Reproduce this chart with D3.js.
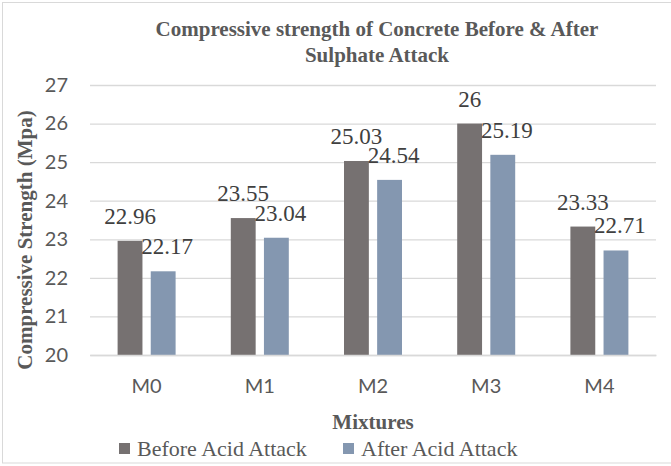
<!DOCTYPE html>
<html><head><meta charset="utf-8">
<script src="https://cdn.jsdelivr.net/npm/d3@7/dist/d3.min.js"></script>
</head><body style="margin:0">
<svg id="chart" width="671" height="466"></svg>
<script>
const categories = ["M0","M1","M2","M3","M4"];
const seriesNames = ["Before Acid Attack","After Acid Attack"];
const beforeValues = [22.96,23.55,25.03,26,23.33];
const afterValues = [22.17,23.04,24.54,25.19,22.71];
const yTicks = [20,21,22,23,24,25,26,27];
const colors = ["#767171","#8497B0"];

const svg = d3.select("#chart");
const W = 671, H = 466;
const m = {left: 90, right: 15, top: 85, bottom: 111};
const pw = W - m.left - m.right, ph = H - m.top - m.bottom;

svg.append("rect").attr("x",2.5).attr("y",2.5).attr("width",W+5).attr("height",H-5-0.5)
  .attr("fill","#fff").attr("stroke","#d9d9d9").attr("stroke-width",1);

const x = d3.scaleBand().domain(categories).range([m.left, m.left+pw]).paddingInner(0).paddingOuter(0);
const y = d3.scaleLinear().domain([20,27]).range([m.top+ph, m.top]);
const x1 = d3.scaleBand().domain([0,1]).range([-29, 29]).paddingInner(0.25).paddingOuter(0);

const gy = svg.append("g").attr("transform",`translate(${m.left},0)`)
  .call(d3.axisLeft(y).tickValues(yTicks).tickSize(-pw).tickFormat(d=>d).tickPadding(22));
gy.select(".domain").remove();
gy.attr("font-family", null).attr("font-size", null);
gy.selectAll(".tick line").attr("stroke","#d9d9d9").attr("stroke-width",1.3);
gy.selectAll(".tick text").attr("fill","#595959").style("font-family","Lato").style("font-size","20px");

const data = categories.map((c,i)=>({c, v:[beforeValues[i], afterValues[i]]}));
const groups = svg.append("g").selectAll("g").data(data).join("g")
  .attr("transform", d=>`translate(${x(d.c)+x.bandwidth()/2},0)`);
groups.selectAll("rect").data(d=>d.v.map((v,k)=>({v,k}))).join("rect")
  .attr("x", d=>x1(d.k)).attr("width", x1.bandwidth())
  .attr("y", d=>y(d.v)).attr("height", d=>y(20)-y(d.v))
  .attr("fill", d=>colors[d.k]);
groups.selectAll("text").data(d=>d.v.map((v,k)=>({v,k}))).join("text")
  .attr("x", d=>x1(d.k)+x1.bandwidth()/2 + (d.k===1?4:0))
  .attr("y", d=>y(d.v)-17)
  .attr("text-anchor","middle")
  .attr("fill","#404040")
  .style("font-family","Times New Roman").style("font-size","23px")
  .text(d=>d.v);

const gx = svg.append("g").attr("transform",`translate(0,${m.top+ph})`)
  .call(d3.axisBottom(x).tickSize(0).tickPadding(24));
gx.attr("font-family", null).attr("font-size", null);
gx.select(".domain").attr("stroke","#d9d9d9").attr("stroke-width",1.5);
gx.selectAll(".tick text").attr("fill","#595959").style("font-family","Lato").style("font-size","20px");

const title = svg.append("text").attr("text-anchor","middle").attr("fill","#595959")
  .style("font-family","Times New Roman").style("font-size","21px").style("font-weight","bold");
title.append("tspan").attr("x",377).attr("y",36).text("Compressive strength of Concrete Before & After");
title.append("tspan").attr("x",377).attr("y",62).text("Sulphate Attack");

svg.append("text").attr("transform",`translate(32,${m.top+ph/2 + 20}) rotate(-90)`)
  .attr("text-anchor","middle").attr("fill","#595959")
  .style("font-family","Times New Roman").style("font-size","21px").style("font-weight","bold")
  .text("Compressive Strength (Mpa)");

svg.append("text").attr("x", m.left+pw/2).attr("y",429).attr("text-anchor","middle").attr("fill","#595959")
  .style("font-family","Times New Roman").style("font-size","21px").style("font-weight","bold")
  .text("Mixtures");

const legX = [119, 343];
const leg = svg.append("g").selectAll("g").data(seriesNames).join("g")
  .attr("transform",(d,i)=>`translate(${legX[i]},0)`);
leg.append("rect").attr("x",0).attr("y",443).attr("width",11).attr("height",11).attr("fill",(d,i)=>colors[i]);
leg.append("text").attr("x",18).attr("y",456).attr("fill","#595959")
  .style("font-family","Times New Roman").style("font-size","22px").text(d=>d);
</script>
</body></html>
